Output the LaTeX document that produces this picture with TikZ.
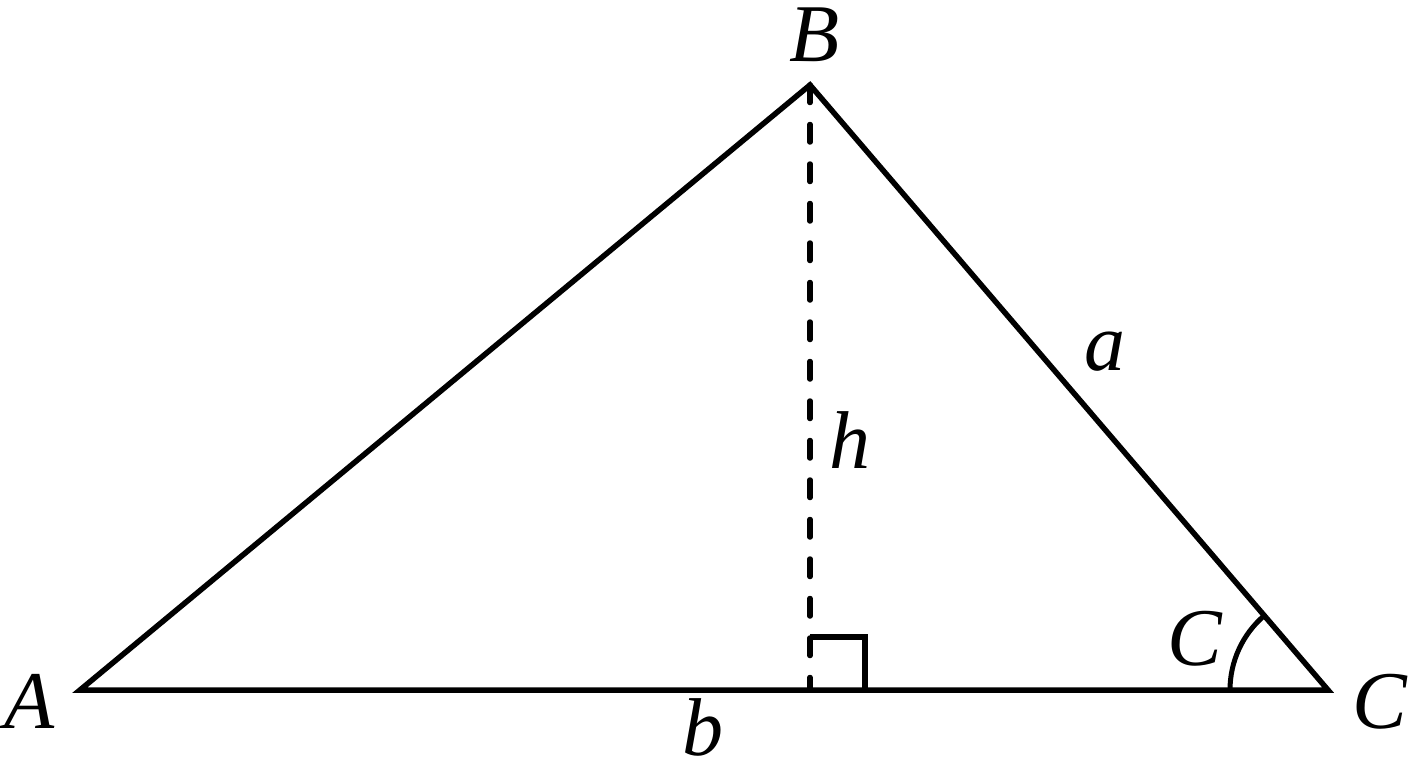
\documentclass[tikz,border=0pt]{standalone}
\usepackage{fontspec}
\setmainfont{Liberation Serif}
\begin{document}
\begin{tikzpicture}[x=1pt,y=-1pt,
  edge/.style={line width=5.5pt,line join=miter},
  lbl/.style={font=\fontsize{82}{90}\selectfont\itshape,inner sep=0pt,anchor=base},
  alt/.style={line width=5.5pt,line cap=round,dash pattern=on 17.5pt off 22pt}]
\useasboundingbox (0,0) rectangle (1408,768);
\coordinate (A) at (80,690);
\coordinate (B) at (810,85);
\coordinate (C) at (1328,690);
\coordinate (F) at (810,690);
\coordinate (S1) at (810,637);
\coordinate (S2) at (865,637);
\coordinate (S3) at (865,690);
\draw[alt] (B) -- (F);
\draw[edge] (S1) -- (S2) -- (S3);
\draw[edge] (A) -- (B) -- (C) -- cycle;
\draw[line width=5pt] (C) ++(180:98) arc[start angle=180,end angle=229.4,radius=98];
\node[lbl] (lA) at (30,728) {A};
\node[lbl] (lB) at (815,62) {B};
\node[lbl] (lC) at (1380,728) {C};
\node[lbl] (lCa) at (1195,665) {C};
\node[lbl] (la) at (1105,370) {a};
\node[lbl] (lh) at (850,468) {h};
\node[lbl,text depth=0pt] (lb) at (703,755) {b};
\end{tikzpicture}
\end{document}
